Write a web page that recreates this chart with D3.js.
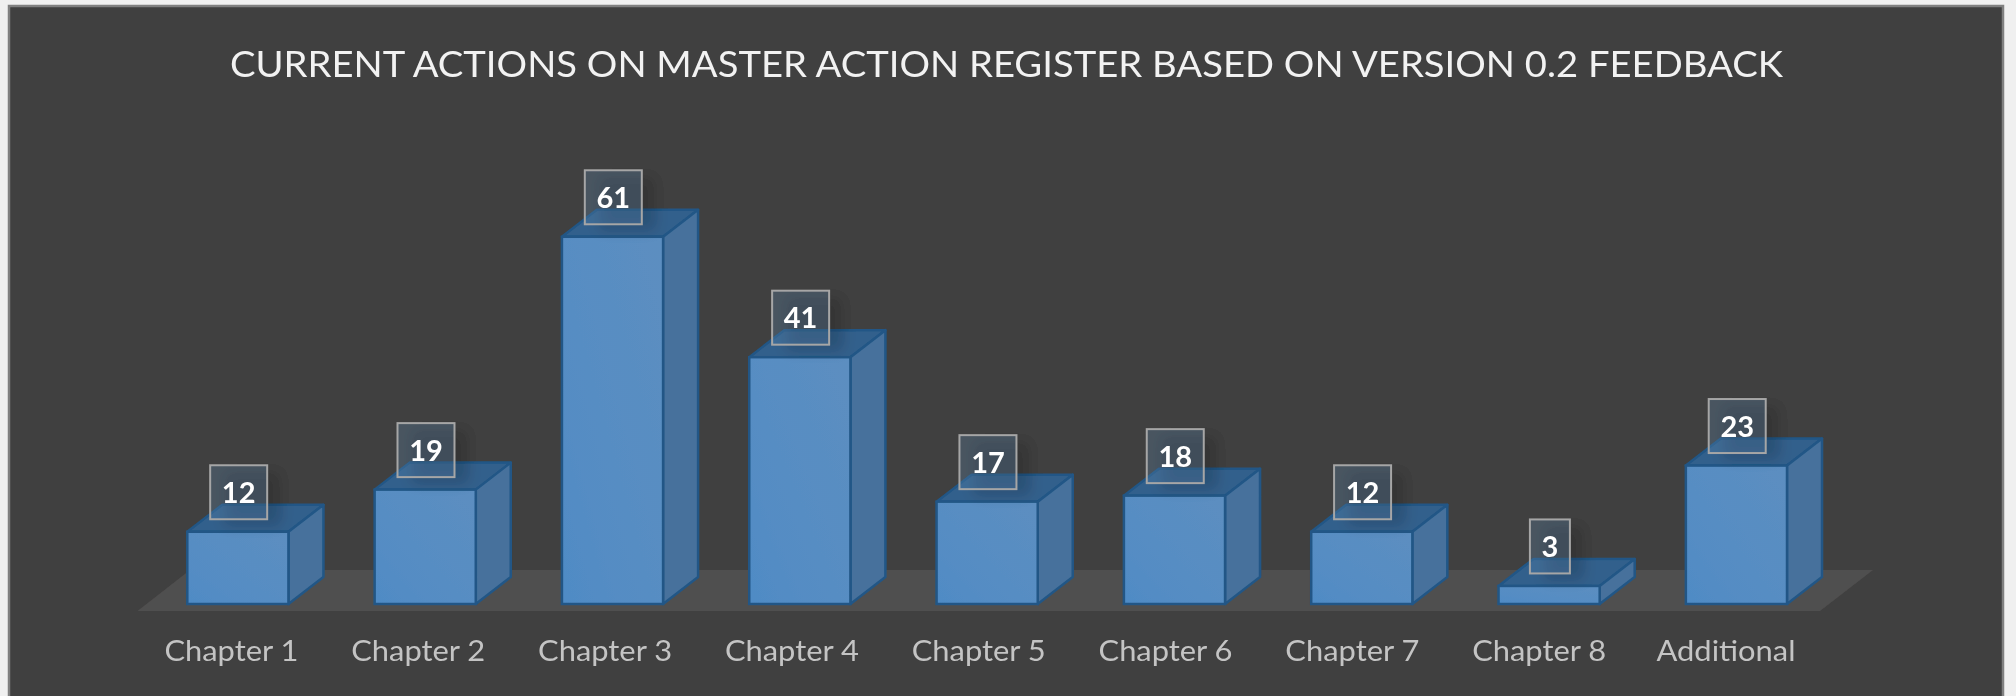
<!DOCTYPE html>
<html><head><meta charset="utf-8">
<script src="https://cdn.jsdelivr.net/npm/d3@7/dist/d3.min.js"></script>
<style>html,body{margin:0;padding:0;background:#f0f0f0;overflow:hidden}svg{display:block}text{font-family:Lato,"Open Sans",sans-serif}</style>
</head><body>
<svg id="c" width="2016" height="696"></svg>
<script>
const titleText = "CURRENT ACTIONS ON MASTER ACTION REGISTER BASED ON VERSION 0.2 FEEDBACK";
const categories = ["Chapter 1","Chapter 2","Chapter 3","Chapter 4","Chapter 5","Chapter 6","Chapter 7","Chapter 8","Additional"];
const values = [12,19,61,41,17,18,12,3,23];

const svg = d3.select("#c");
const defs = svg.append("defs");
const soft = defs.append("filter").attr("id","soft").attr("x","-5%").attr("y","-5%").attr("width","110%").attr("height","110%");
soft.append("feGaussianBlur").attr("stdDeviation",0.7);
const shadow = defs.append("filter").attr("id","shadow").attr("x","-60%").attr("y","-60%").attr("width","220%").attr("height","220%");
shadow.append("feGaussianBlur").attr("stdDeviation",7);
const grad = defs.append("linearGradient").attr("id","front").attr("x1",0).attr("y1",1).attr("x2",1).attr("y2",0);
grad.append("stop").attr("offset",0).attr("stop-color","#4f8bc5");
grad.append("stop").attr("offset",0.45).attr("stop-color","#578dc3");
grad.append("stop").attr("offset",1).attr("stop-color","#5c8ec0");

const root = svg.append("g").attr("filter","url(#soft)");
root.append("rect").attr("x",9).attr("y",6).attr("width",1994).attr("height",700)
  .attr("fill","#404040").attr("stroke","#808080").attr("stroke-width",2.5);

const depthX = 35, depthY = 27;
const x = d3.scaleBand().domain(categories).range([187.3,1787]).paddingInner(0.46).paddingOuter(0);
const labelX = d3.scalePoint().domain(categories).range([231.4,1726]);
const y = d3.scaleLinear().domain([0,70]).range([604,604-70*6.02]);

root.append("path").attr("fill","#504f4f")
  .attr("d",d3.line()([[137.5,611],[190,570],[1873,570],[1820,611]])+"Z");

root.append("text").attr("x",1006.5).attr("y",77).attr("text-anchor","middle")
  .attr("fill","#f2f2f2").attr("font-size",37).attr("textLength",1553).attr("lengthAdjust","spacingAndGlyphs").text(titleText);

const rows = categories.map((c,i)=>({c,v:values[i]}));
const bars = root.selectAll("g.bar").data(rows).join("g").attr("class","bar");
const line = d3.line();
const stroke = "#215786";
bars.each(function(d){
  const g = d3.select(this), x0 = x(d.c), x1 = x0+x.bandwidth(), y0 = y(0), yt = y(d.v);
  g.append("path").attr("d",line([[x0,yt],[x1,yt],[x1+depthX,yt-depthY],[x0+depthX,yt-depthY]])+"Z")
    .attr("fill","#33608c").attr("stroke",stroke).attr("stroke-width",2.5).attr("stroke-linejoin","round");
  g.append("path").attr("d",line([[x1,yt],[x1+depthX,yt-depthY],[x1+depthX,y0-depthY],[x1,y0]])+"Z")
    .attr("fill","#46719c").attr("stroke",stroke).attr("stroke-width",2.5).attr("stroke-linejoin","round");
  g.append("rect").attr("x",x0).attr("y",yt).attr("width",x.bandwidth()).attr("height",y0-yt)
    .attr("fill","url(#front)").attr("stroke",stroke).attr("stroke-width",2.5);
});

const labels = root.selectAll("g.lab").data(rows).join("g").attr("class","lab");
labels.each(function(d){
  const g = d3.select(this), cx = x(d.c)+x.bandwidth()/2+0.8, cy = y(d.v)-39.5, w = String(d.v).length>1?57:40, h = 54;
  g.append("rect").attr("x",cx-w/2+14).attr("y",cy-h/2+6).attr("width",w).attr("height",h)
    .attr("fill","#000").attr("opacity",0.16).attr("filter","url(#shadow)");
  g.append("rect").attr("x",cx-w/2).attr("y",cy-h/2).attr("width",w).attr("height",h)
    .attr("fill","#5e88b0").attr("fill-opacity",0.3).attr("stroke","#a6a6a6").attr("stroke-width",2);
  g.append("text").attr("x",cx).attr("y",cy+10.5).attr("text-anchor","middle")
    .attr("fill","#fff").attr("font-size",29).attr("font-weight",700).text(d.v);
});

root.selectAll("text.cat").data(categories).join("text").attr("class","cat")
  .attr("x",c=>labelX(c)).attr("y",661).attr("text-anchor","middle")
  .attr("fill","#c4c4c4").attr("font-size",29)
  .attr("textLength",c=>c==="Additional"?139:134).attr("lengthAdjust","spacingAndGlyphs").text(c=>c);
</script>
</body></html>
